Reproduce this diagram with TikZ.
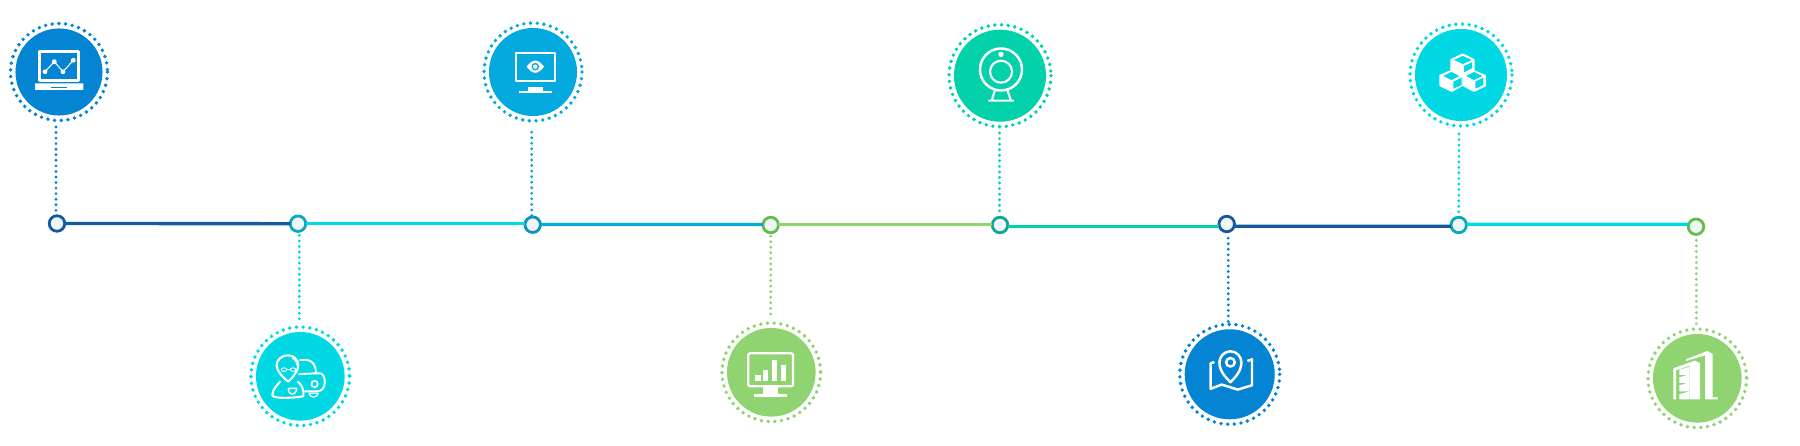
\documentclass[tikz,border=0pt]{standalone}
\usepackage{xcolor}
\usepackage{tikz}
\usetikzlibrary{calc}
\definecolor{cblue}{HTML}{0684D4}
\definecolor{ccyan}{HTML}{00D8E4}
\definecolor{csky}{HTML}{04A9DE}
\definecolor{cgreen}{HTML}{8FD470}
\definecolor{cteal}{HTML}{03D1A9}
\definecolor{ldark}{HTML}{155A9E}
\definecolor{rteal}{HTML}{0BA8B6}
\definecolor{rsky}{HTML}{0E93BA}
\definecolor{rgreen}{HTML}{66BC48}
\definecolor{rmint}{HTML}{0AA893}
\definecolor{cfill}{HTML}{F0F5FA}
\tikzset{
 stopdot/.style={circle,draw=#1,fill=cfill,line width=.8pt,inner sep=0,minimum size=.155cm},
 disc/.style={circle,fill=#1,inner sep=0,minimum size=.885cm},
 ringdots/.style={line width=1.1pt,line cap=round,dash pattern=on 0pt off 1.91pt,draw=#1},
 link/.style={line width=.95pt,draw=#1,shorten >=-.4pt,shorten <=-.4pt},
 vdots/.style={line width=.9pt,line cap=round,dash pattern=on 0pt off 1.58pt,draw=#1},
 ico/.style={draw=white,line width=.7pt,line join=round}
}

\begin{document}
\begin{tikzpicture} [x=.01cm,y=-.01cm]
\useasboundingbox (0,0) rectangle (1800,446);

% rings and discs
\foreach \n/\x/\y/\r/\c in {1/59/72/48.5/cblue,2/300.3/376.3/49.3/ccyan,3/533/72/49/csky,4/771.3/372.3/49.3/cgreen,
  5/1000/75.7/51/cteal,6/1229.7/374.3/50/cblue,7/1461/75/51/ccyan,8/1697.3/378.3/49.3/cgreen} {
 \node[disc=\c,minimum size={(\r-5)*.02cm}] (ic\n) at (\x,\y) {};
 \draw[ringdots=\c] (ic\n.center) circle [radius=\r];
}

% stops along the line
\foreach \n/\x/\y/\c in {1/57/223.5/ldark,2/298/223.7/rteal,3/532.7/224.7/rsky,4/770.7/225/rgreen,
  5/1000/225/rmint,6/1226.7/224/ldark,7/1458.7/225/rteal,8/1696/226.7/rgreen} {
 \node[stopdot=\c] (ms\n) at (\x,\y) {};
}

% timeline
\foreach \a/\b/\c/\sa/\sb in {1/2/ldark/0/0,2/3/ccyan/0/.01,3/4/csky/.002/.005,4/5/cgreen/.007/.007,
  5/6/cteal/-.017/-.027,6/7/ldark/-.023/-.013,7/8/ccyan/.007/.024} {
 \draw[link=\c] ([yshift=\sa cm]ms\a.east) -- ([yshift=\sb cm]ms\b.west);
}

% dotted stems
\draw[vdots=cblue] ([xshift=-.01cm,yshift=.04cm]ms1.north) -- ([xshift=-.03cm,yshift=-.09cm]ic1.south);
\draw[vdots=ccyan] ([xshift=.013cm,yshift=-.025cm]ms2.south) -- ([xshift=-.01cm,yshift=.1cm]ic2.north);
\draw[vdots=csky] ([xshift=-.01cm]ms3.north) -- ([xshift=-.013cm,yshift=-.14cm]ic3.south);
\draw[vdots=cgreen] ([yshift=-.02cm]ms4.south) -- ([xshift=-.006cm,yshift=.08cm]ic4.north);
\draw[vdots=cteal] ([xshift=-.005cm,yshift=.05cm]ms5.north) -- ([xshift=-.005cm,yshift=-.08cm]ic5.south);
\draw[vdots=cblue] ([xshift=.015cm,yshift=-.05cm]ms6.south) -- ([xshift=-.014cm,yshift=.07cm]ic6.north);
\draw[vdots=ccyan] ([yshift=.04cm]ms7.north) -- ([xshift=-.02cm,yshift=-.08cm]ic7.south);
\draw[vdots=cgreen] ([xshift=.003cm,yshift=-.045cm]ms8.south) -- ([xshift=-.01cm,yshift=.09cm]ic8.north);

% laptop with chart
\begin{scope}[shift={(ic1.center)}]
\draw[ico,line width=.75pt] (-19.2,-20.6) rectangle (19.2,8.6);
\fill[white,rounded corners=.2pt] (-24,11.3) rectangle (24.3,18);
\fill[cblue] (-8,14.7) rectangle (8.3,16);
\draw[ico,line width=.3pt] (-14,-.3) -- (-4.7,-10.3) -- (4,-.3) -- (14.3,-11.7);
\foreach \p in {(-14,-.3),(-4.7,-10.3),(4,-.3),(14.3,-11.7)} \fill[white] \p circle [radius=2.4];
\end{scope}

% person and car
\begin{scope}[shift={(ic2.center)}]
\draw[ico,line width=.55pt] (-1,-16.3) -- (6,-16.3) .. controls (12,-16.3) and (15.7,-11) .. (15.7,-3)
  -- (20,-3) .. controls (23,-2) and (24.5,1) .. (24.5,6) .. controls (24.5,12) and (21,15) .. (17,15) -- (4,15);
\draw[ico,line width=.55pt] (-2,-2) -- (15.7,-3);
\draw[ico,line width=.5pt] (14.3,7.7) circle [radius=3.2];
\draw[ico,line width=.35pt] (8.7,17) .. controls (9.5,22) and (17,22) .. (18,17) -- cycle;
\filldraw[ico,fill=ccyan,line width=.6pt] (-20,5) .. controls (-23,9) and (-28,13) .. (-28,19)
  .. controls (-27,22) and (-12,22.5) .. (3,20) .. controls (4,13) and (1,8) .. (-3,5);
\filldraw[ico,fill=ccyan,line width=.6pt] (-12,5.3) .. controls (-18,1) and (-23.7,-6) .. (-23.7,-11)
  .. controls (-23.7,-17) and (-18,-21) .. (-12.5,-21) .. controls (-7,-21) and (-2,-17) .. (-2,-11)
  .. controls (-2,-6) and (-7,1) .. cycle;
\draw[ico,line width=.25pt] (-16.3,-6.7) ellipse [x radius=2.7,y radius=1.8] (-7.3,-6.7) ellipse [x radius=2.7,y radius=1.8] (-13.6,-6.7) -- (-10,-6.7);
\draw[ico,line width=.25pt] (-8,-18) .. controls (-5,-17) and (-3.5,-14) .. (-3.5,-11);
\draw[ico,line width=.4pt] (-12,12) -- (-3.5,12) .. controls (-4,16) and (-6,18) .. (-8,18) .. controls (-10,18) and (-12,16) .. (-12,12);
\end{scope}

% monitor with eye
\begin{scope}[shift={(ic3.center)}]
\draw[ico,line width=.45pt] (-17,-19) rectangle (22,9);
\fill[white] (2.3,-11.5) .. controls (6,-11.5) and (9,-8) .. (11,-5.3) .. controls (9,-2.5) and (6,.8) .. (2.3,.8)
  .. controls (-1.4,.8) and (-4.4,-2.5) .. (-6.3,-5.3) .. controls (-4.4,-8) and (-1.4,-11.5) .. (2.3,-11.5) -- cycle;
\fill[csky] (2.3,-5.3) circle [radius=3.8];
\fill[white] (2.3,-5.3) circle [radius=2.2];
\fill[white] (-4.7,14.7) rectangle (9.7,19.3);
\fill[white] (-14,19) rectangle (19.3,20.7);
\end{scope}

% monitor with bars
\begin{scope}[shift={(ic4.center)}]
\draw[ico,line width=.65pt,rounded corners=.4pt] (-23,-19) rectangle (21.7,14);
\foreach \a/\b in {-16.3/2.7,-8.7/-2.3,.3/-12.3,9.3/-7.3} \fill[white] (\a,\b) rectangle ({\a+5.8},8.7);
\fill[white] (-8,15) rectangle (7,22);
\fill[white] (-17,21.7) rectangle (15.7,24.3);
\end{scope}

% webcam
\begin{scope}[shift={(ic5.center)}]
\draw[ico] (1,-6.2) circle [radius=21];
\draw[ico,line width=.6pt] (1,-4) circle [radius=11];
\fill[white] (1,-21.3) circle [radius=2.7];
\draw[ico,line width=.6pt,line cap=round] (-5,14.3) -- (-8.3,25) (7.3,14.3) -- (11,25) (-11,25) -- (13.3,25);
\end{scope}

% map with pin
\begin{scope}[shift={(ic6.center)}]
\draw[ico] (-15.3,-12.3) -- (-19,-11) -- (-19,14.5) -- (-8,10.3) -- (8,15.3) -- (22.3,11) -- (22.3,-15) -- (17.7,-13.3);
\filldraw[ico,fill=cblue] (.7,8) .. controls (-4,3) and (-10.3,-3) .. (-10.3,-12) .. controls (-10.3,-18) and (-5,-23) .. (.7,-23)
  .. controls (6.5,-23) and (11.7,-18) .. (11.7,-12) .. controls (11.7,-3) and (5.5,3) .. (.7,8) -- cycle;
\draw[ico] (.7,-12) circle [radius=4.3];
\end{scope}

% cubes
\begin{scope}[shift={(ic7.center)}]
\fill[white,rounded corners=.2pt] (1.7,-21.7) -- (13.7,-15.7) -- (13.7,-4.3) -- (1.7,2.3) -- (-10.7,-3.3) -- (-10.7,-15.7) -- cycle;
\fill[white,rounded corners=.2pt] (-10,-5) -- (1.7,.3) -- (1.7,11) -- (-9.3,17) -- (-21.7,11) -- (-21.7,0) -- cycle;
\fill[white,rounded corners=.2pt] (13,-5) -- (25,.3) -- (25,11) -- (13,17) -- (1.7,11) -- (1.7,.3) -- cycle;
\fill[ccyan] (1.7,-19) -- (10.7,-15) -- (1.7,-11) -- (-7,-15) -- cycle;
\fill[ccyan] (3,-9) -- (11,-12.7) -- (11,-6.7) -- (3,-2.7) -- cycle;
\fill[ccyan] (-9.7,-3) -- (-1.7,1) -- (-9.7,5) -- (-17.7,1) -- cycle;
\fill[ccyan] (-7.7,6.7) -- (.7,2.7) -- (.7,10) -- (-7.7,13.7) -- cycle;
\fill[ccyan] (13,-3) -- (21.3,1) -- (13,5) -- (5,1) -- cycle;
\fill[ccyan] (14.3,6.7) -- (22.3,2.7) -- (22.3,10) -- (14.3,13.7) -- cycle;
\end{scope}

% buildings
\begin{scope}[shift={(ic8.center)}]
\fill[white] (-11.3,-19) -- (10,-27.3) -- (15.3,-24.3) -- (15.3,19) -- (20.3,19) -- (20.3,21) -- (7.7,21) -- (7.7,-23) -- (-11.3,-17.3) -- cycle;
\fill[white] (-24,-10) -- (-2.5,-17.7) -- (2.7,-15) -- (2.7,21) -- (-8,21) -- (-8,-12.5) -- (-21.3,-8) -- (-21.3,21) -- (-24,21) -- cycle;
\foreach \t/\b in {-8.5/-3.5,-1/4.5,7/13,16/21} \fill[white] (-18,\t) -- (-8,{\t-3}) -- (-8,\b) -- (-18,\b) -- cycle;
\end{scope}
\end{tikzpicture}
\end{document}
